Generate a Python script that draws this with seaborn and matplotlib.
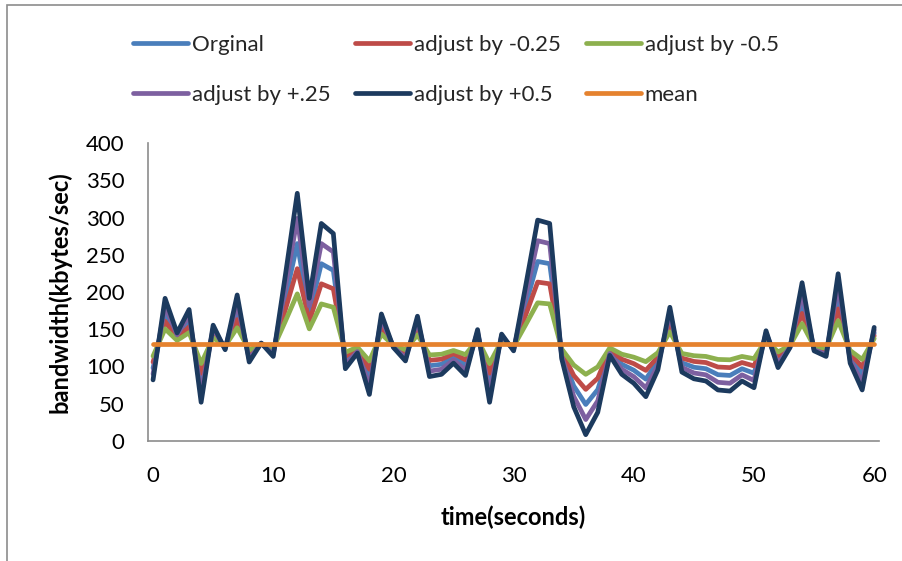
import matplotlib
matplotlib.use("Agg")
import matplotlib.pyplot as plt
import seaborn as sns
from matplotlib.lines import Line2D
from matplotlib.patches import Rectangle

# ---------------- data ----------------
time = list(range(61))

orginal = [98, 171, 140, 161, 78, 147, 125, 174, 114, 131, 119, 191, 265, 171, 238, 229,
           108, 122, 85, 157, 127, 115, 155, 101, 103, 113, 102, 143, 78, 139, 124, 182,
           241, 238, 117, 74, 49, 69, 120, 103, 95, 83, 107, 163, 105, 99, 97, 89, 88, 97,
           91, 142, 109, 127, 185, 124, 119, 193, 113, 89, 145]

adj_minus_025 = [106, 160.8, 137.5, 153.3, 91, 142.8, 126.3, 163, 118, 130.8, 121.8, 175.8,
                 231.3, 160.8, 211, 204.3, 113.5, 124, 96.3, 150.3, 127.8, 118.8, 148.8,
                 108.3, 109.8, 117.3, 109, 139.8, 91, 136.8, 125.5, 169, 213.3, 211, 120.3,
                 88, 69.3, 84.3, 122.5, 109.8, 103.8, 94.8, 112.8, 154.8, 111.3, 106.8,
                 105.3, 99.3, 98.5, 105.3, 100.8, 139, 114.3, 127.8, 171.3, 125.5, 121.8,
                 177.3, 117.3, 99.3, 141.3]

adj_minus_05 = [114, 150.5, 135, 145.5, 104, 138.5, 127.5, 152, 122, 130.5, 124.5, 160.5,
                197.5, 150.5, 184, 179.5, 119, 126, 107.5, 143.5, 128.5, 122.5, 142.5, 115.5,
                116.5, 121.5, 116, 136.5, 104, 134.5, 127, 156, 185.5, 184, 123.5, 102, 89.5,
                99.5, 125, 116.5, 112.5, 106.5, 118.5, 146.5, 117.5, 114.5, 113.5, 109.5,
                109, 113.5, 110.5, 136, 119.5, 128.5, 157.5, 127, 124.5, 161.5, 121.5,
                109.5, 137.5]

adj_plus_025 = [90, 181.3, 142.5, 168.8, 65, 151.3, 123.8, 185, 110, 131.3, 116.3, 206.3,
                298.8, 181.3, 265, 253.8, 102.5, 120, 73.8, 163.8, 126.3, 111.3, 161.3, 93.8,
                96.3, 108.8, 95, 146.3, 65, 141.3, 122.5, 195, 268.8, 265, 113.8, 60, 28.8,
                53.8, 117.5, 96.3, 86.3, 71.3, 101.3, 171.3, 98.8, 91.3, 88.8, 78.8, 77.5,
                88.8, 81.3, 145, 103.8, 126.3, 198.8, 122.5, 116.3, 208.8, 108.8, 78.8, 148.8]

adj_plus_05 = [82, 191.5, 145, 176.5, 52, 155.5, 122.5, 196, 106, 131.5, 113.5, 221.5, 332.5,
               191.5, 292, 278.5, 97, 118, 62.5, 170.5, 125.5, 107.5, 167.5, 86.5, 89.5,
               104.5, 88, 149.5, 52, 143.5, 121, 208, 296.5, 292, 110.5, 46, 8.5, 38.5, 115,
               89.5, 77.5, 59.5, 95.5, 179.5, 92.5, 83.5, 80.5, 68.5, 67, 80.5, 71.5, 148,
               98.5, 125.5, 212.5, 121, 113.5, 224.5, 104.5, 68.5, 152.5]

mean_vals = [130] * 61

series_names = ["Orginal", "adjust by -0.25", "adjust by -0.5",
                "adjust by +.25", "adjust by +0.5", "mean"]
series_values = [orginal, adj_minus_025, adj_minus_05, adj_plus_025, adj_plus_05, mean_vals]
series_colors = ["#4A7EBB", "#BE4B48", "#8DB04E", "#7D60A0", "#1C3A5E", "#E5822E"]

x_ticks = [0, 10, 20, 30, 40, 50, 60]
y_ticks = [0, 50, 100, 150, 200, 250, 300, 350, 400]

# ---------------- figure ----------------
sns.set_theme(style="white")
plt.rcParams["font.family"] = ["Lato", "DejaVu Sans"]

W, H = 902, 561
fig = plt.figure(figsize=(W / 100, H / 100), dpi=100)
fig.patch.set_facecolor("white")

L, R, T, B = 148, 879, 143, 441
ax = fig.add_axes([L / W, 1 - B / H, (R - L) / W, (B - T) / H])

LW = 3.4
for name, vals, col in zip(series_names, series_values, series_colors):
    sns.lineplot(x=time, y=vals, ax=ax, color=col, linewidth=LW, legend=False,
                 sort=False, estimator=None)

FS = 16
ax.set_xlim(-0.42, 60.4)
ax.set_ylim(0, 400)
ax.set_xticks(x_ticks)
ax.set_yticks(y_ticks)
ax.tick_params(axis="both", length=0, labelsize=FS, colors="black")
ax.tick_params(axis="y", pad=17)
ax.tick_params(axis="x", pad=18)

for s in ["top", "right"]:
    ax.spines[s].set_visible(False)
for s in ["left", "bottom"]:
    ax.spines[s].set_color("#8C8C8C")
    ax.spines[s].set_linewidth(1.2)
ax.grid(False)

ax.set_ylabel("bandwidth(kbytes/sec)", fontsize=17, fontweight="bold", color="black")
ax.set_xlabel("time(seconds)", fontsize=17, fontweight="bold", color="black")
ax.yaxis.set_label_coords(-0.104, 0.5)
ax.xaxis.set_label_coords(0.5, -0.218)

# legend: row1 Orginal, -0.25, -0.5 ; row2 +.25, +0.5, mean
order = [0, 3, 1, 4, 2, 5]
handles = [Line2D([0], [0], color=series_colors[i], lw=LW, solid_capstyle="round")
           for i in order]
labels = [series_names[i] for i in order]
fig.legend(handles, labels, ncol=3, loc="upper left",
           bbox_to_anchor=(133 / W, 1 - 35 / H), frameon=False, fontsize=FS,
           handlelength=2.48, handletextpad=0.18, columnspacing=1.1,
           labelspacing=1.35, borderpad=0, borderaxespad=0)

# outer chart border
fig.patches.append(Rectangle((7.5 / W, -0.1), 1.2, 1.1 - 4.5 / H,
                             transform=fig.transFigure, fill=False,
                             edgecolor="#8C8C8C", linewidth=1.2, clip_on=False))

fig.savefig("out.png", dpi=100, facecolor="white")
